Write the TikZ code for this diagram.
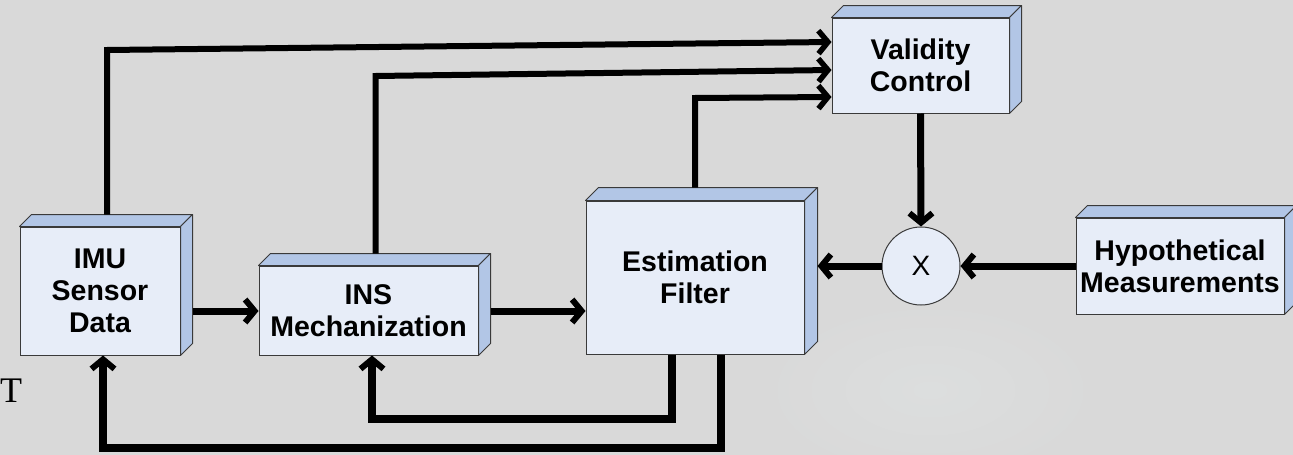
\documentclass[tikz,border=0pt]{standalone}
\usepackage{fontspec}
\setmainfont{Liberation Sans}
\newfontfamily\serifT{Liberation Serif}
\usetikzlibrary{arrows.meta,calc}

\definecolor{bgc}{HTML}{D9D9D9}
\definecolor{bglight}{HTML}{DCDEDE}
\definecolor{facec}{HTML}{E7EDF8}
\definecolor{sidec}{HTML}{B2C6E6}
\definecolor{edgec}{HTML}{3A3A3A}

\tikzset{
  blockbox/.style={draw=edgec, line width=1pt, fill=facec, align=center,
    font=\bfseries\fontsize{28.5}{32}\selectfont, inner sep=0pt},
  slabface/.style={fill=sidec, draw=edgec, line width=1pt, line join=round},
  conn/.style={line width=7pt, -{Straight Barb[length=9.5pt,width=23pt,line width=6pt]}},
  thinconn/.style={line width=6pt, -{Straight Barb[length=9.5pt,width=23pt,line width=5.5pt]}},
  mixer/.style={circle, draw=edgec, line width=1pt, fill=facec, minimum size=78pt,
    inner sep=0pt, font=\fontsize{28}{32}\selectfont}
}

% top and right faces giving a block its depth
\newcommand\slabfaces[2]{%
  \filldraw[slabface] (#1.north west) -- ++(#2,-#2) -- ($(#1.north east)+(#2,-#2)$)
    -- (#1.north east) -- cycle;
  \filldraw[slabface] (#1.north east) -- ++(#2,-#2) -- ($(#1.south east)+(#2,-#2)$)
    -- (#1.south east) -- cycle;
}

\begin{document}
\begin{tikzpicture}[x=1pt, y=-1pt]
  \useasboundingbox (0,0) rectangle (1293,455);
  \fill[bgc] (0,0) rectangle (1293,455);
  \shade[inner color=bglight, outer color=bgc] (930,390) ellipse (170 and 90);

  % blocks
  \node[blockbox, minimum width=160pt, minimum height=128pt] (imu) at (100,291) {IMU\\Sensor\\Data};
  \node[blockbox, minimum width=219pt, minimum height=89pt] (ins) at (368.5,310.5) {INS\\Mechanization};
  \node[blockbox, minimum width=218pt, minimum height=153pt] (ef) at (695,277.5) {Estimation\\Filter};
  \node[blockbox, minimum width=177pt, minimum height=95pt] (val) at (920.5,65.5) {Validity\\Control};
  \node[blockbox, minimum width=208pt, minimum height=96pt] (hyp) at (1180,266) {Hypothetical\\Measurements};
  \slabfaces{imu}{12}
  \slabfaces{ins}{12}
  \slabfaces{ef}{13}
  \slabfaces{val}{12}
  \slabfaces{hyp}{12}

  \node[mixer] (mix) at (921,266) {X};

  \node[font=\serifT\fontsize{36}{40}\selectfont, anchor=base west, inner sep=0pt] (tmark) at (0,402) {T};

  % forward chain
  \draw[conn] ([shift={(12,20)}]imu.east) coordinate (a1) -- (a1 -| ins.west);
  \draw[conn] ([shift={(12,0.5)}]ins.east) coordinate (a2) -- (a2 -| ef.west);
  \draw[conn] (mix.west) -- ([shift={(13,0)}]ef.east |- mix.west);
  \draw[conn] (hyp.west) -- (mix.east);
  \draw[conn] (val.south) -- (mix.north);

  % inputs of the validity check
  \draw[thinconn] ([shift={(7,-12)}]imu.north) -- (107,50) -- ([shift={(0,-23.5)}]val.west);
  \draw[thinconn] ([shift={(7,-12)}]ins.north) -- (375.5,76) -- ([shift={(0,4.5)}]val.west);
  \draw[thinconn] ([shift={(0,-13)}]ef.north) -- (695,98) -- ([shift={(0,31.5)}]val.west);

  % feedback from the filter
  \draw[conn, line width=8pt] ([shift={(-23,0)}]ef.south) -- ++(0,64) -| ([shift={(3.5,0)}]ins.south);
  \draw[conn, line width=8pt] ([shift={(26,0)}]ef.south) -- ++(0,93) -| ([shift={(3,0)}]imu.south);
\end{tikzpicture}
\end{document}
